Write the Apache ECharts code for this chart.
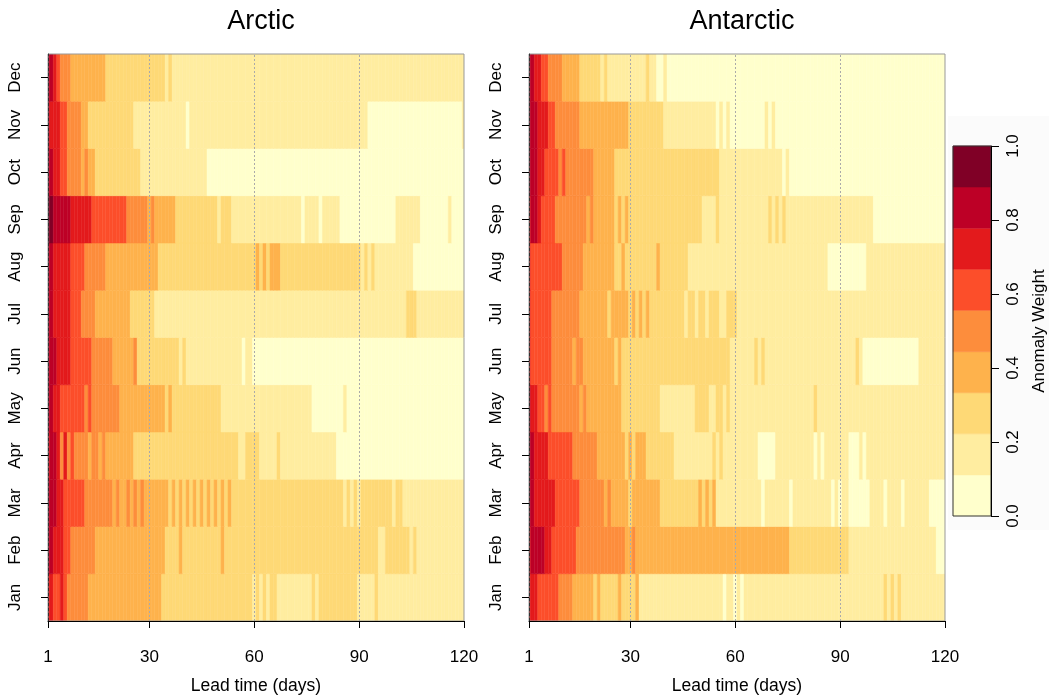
<!DOCTYPE html>
<html><head><meta charset="utf-8">
<script src="https://cdn.jsdelivr.net/npm/echarts@6/dist/echarts.min.js"></script>
<style>html,body{margin:0;padding:0;background:#fff}#c{width:1049px;height:700px}</style>
</head><body><div id="c"></div>
<script>
// ---------- data (each row: [anomaly weight, last lead day of the run]) ----------
const months = ['Jan','Feb','Mar','Apr','May','Jun','Jul','Aug','Sep','Oct','Nov','Dec'];
const panelTitles = ['Arctic','Antarctic'];
const xTicks = [1, 30, 60, 90, 120];
const guideDays = [30, 60, 90];
const legendTicks = [0, 0.2, 0.4, 0.6, 0.8, 1.0];
const levelBreaks = [0, 0.111, 0.222, 0.333, 0.444, 0.556, 0.667, 0.778, 0.889, 1.0];
const levelColors = ['#FFFFCC','#FFEDA0','#FED976','#FEB24C','#FD8D3C','#FC4E2A','#E31A1C','#BD0026','#800026'];

const arcticJan = [[.72,2],[.61,4],[.72,5],[.61,6],[.5,12],[.39,33],[.28,59],[.17,60],[.28,61],[.17,62],[.28,63],[.17,64],[.28,66],[.17,76],[.28,77],[.17,78],[.28,89],[.17,94],[.28,95],[.17,120]];
const arcticFeb = [[.83,2],[.72,5],[.61,7],[.5,14],[.39,34],[.28,38],[.39,39],[.28,50],[.39,51],[.28,95],[.17,97],[.28,104],[.17,105],[.28,106],[.17,120]];
const arcticMar = [[.83,3],[.72,5],[.61,11],[.5,19],[.39,20],[.5,21],[.39,23],[.5,24],[.39,25],[.5,26],[.39,27],[.5,28],[.39,35],[.28,36],[.39,37],[.28,38],[.39,39],[.28,40],[.39,41],[.28,42],[.39,43],[.28,44],[.39,45],[.28,46],[.39,47],[.28,48],[.39,49],[.28,50],[.39,51],[.28,52],[.39,53],[.28,85],[.17,86],[.28,87],[.17,88],[.28,89],[.17,90],[.28,99],[.17,100],[.28,102],[.17,120]];
const arcticApr = [[.72,1],[.83,3],[.72,4],[.5,5],[.72,6],[.5,7],[.61,8],[.5,12],[.39,13],[.5,15],[.39,16],[.5,17],[.39,25],[.28,55],[.17,57],[.28,61],[.17,66],[.28,67],[.17,83],[.05,120]];
const arcticMay = [[.83,2],[.72,4],[.61,11],[.5,12],[.61,13],[.5,21],[.39,34],[.28,35],[.39,36],[.28,50],[.17,76],[.05,85],[.17,86],[.05,120]];
const arcticJun = [[.83,3],[.72,7],[.61,13],[.5,19],[.39,25],[.5,26],[.28,38],[.17,39],[.28,40],[.17,56],[.05,57],[.17,59],[.05,120]];
const arcticJul = [[.83,2],[.72,7],[.61,10],[.5,14],[.39,24],[.28,31],[.17,103],[.28,106],[.17,120]];
const arcticAug = [[.83,2],[.72,7],[.61,11],[.5,17],[.39,32],[.28,60],[.39,61],[.28,62],[.39,63],[.28,64],[.39,67],[.28,90],[.17,91],[.28,92],[.17,93],[.28,94],[.17,105],[.05,120]];
const arcticSep = [[.94,2],[.83,7],[.72,13],[.61,23],[.5,29],[.39,30],[.5,31],[.39,37],[.28,49],[.17,50],[.28,53],[.17,73],[.05,74],[.17,78],[.05,79],[.17,84],[.05,100],[.17,107],[.05,115],[.17,116],[.05,120]];
const arcticOct = [[.83,2],[.72,4],[.61,6],[.5,10],[.39,11],[.5,12],[.39,14],[.28,27],[.17,46],[.05,120]];
const arcticNov = [[.83,1],[.72,4],[.61,6],[.5,10],[.39,12],[.28,25],[.17,40],[.05,41],[.17,92],[.05,119],[.17,120]];
const arcticDec = [[.83,2],[.72,3],[.61,4],[.5,7],[.39,17],[.28,34],[.17,35],[.28,36],[.17,120]];

const antarcticJan = [[.72,3],[.61,9],[.5,13],[.39,19],[.28,20],[.39,21],[.28,26],[.39,27],[.28,31],[.39,32],[.17,56],[.05,57],[.17,59],[.05,60],[.17,61],[.05,62],[.17,102],[.28,103],[.17,104],[.28,105],[.17,106],[.28,107],[.17,120]];
const antarcticFeb = [[.72,1],[.83,5],[.72,7],[.61,14],[.5,28],[.39,30],[.5,31],[.39,75],[.28,92],[.17,117],[.05,120]];
const antarcticMar = [[.83,2],[.72,8],[.61,15],[.5,22],[.39,23],[.5,24],[.39,29],[.28,30],[.39,38],[.28,49],[.39,50],[.28,51],[.39,52],[.28,53],[.39,54],[.17,67],[.05,68],[.17,75],[.05,76],[.17,87],[.05,88],[.17,89],[.05,90],[.17,92],[.05,98],[.17,102],[.05,103],[.17,107],[.05,108],[.17,115],[.05,120]];
const antarcticApr = [[.83,2],[.72,6],[.61,13],[.5,20],[.39,28],[.28,29],[.39,30],[.28,31],[.39,34],[.28,42],[.17,53],[.28,54],[.17,55],[.28,56],[.17,66],[.05,71],[.17,82],[.05,83],[.17,84],[.05,85],[.17,92],[.05,95],[.17,96],[.05,97],[.17,120]];
const antarcticMay = [[.83,1],[.72,3],[.61,5],[.5,6],[.61,7],[.5,15],[.39,16],[.5,17],[.39,27],[.28,38],[.17,48],[.28,52],[.17,54],[.28,56],[.17,57],[.28,58],[.17,82],[.28,83],[.17,120]];
const antarcticJun = [[.72,1],[.61,7],[.5,13],[.39,14],[.5,16],[.39,25],[.28,26],[.39,27],[.28,58],[.17,65],[.28,66],[.17,67],[.28,68],[.17,94],[.28,95],[.17,96],[.05,112],[.17,120]];
const antarcticJul = [[.72,1],[.61,7],[.5,15],[.39,23],[.28,24],[.39,29],[.28,30],[.39,31],[.28,32],[.39,33],[.28,34],[.39,35],[.28,45],[.17,46],[.28,48],[.17,49],[.28,51],[.17,52],[.28,55],[.17,57],[.28,60],[.17,120]];
const antarcticAug = [[.72,1],[.61,10],[.5,16],[.39,25],[.28,27],[.39,28],[.28,37],[.39,38],[.28,46],[.17,86],[.05,97],[.17,120]];
const antarcticSep = [[.72,1],[.83,3],[.72,4],[.61,8],[.5,17],[.39,18],[.5,19],[.39,25],[.28,26],[.39,27],[.28,28],[.39,29],[.28,50],[.17,54],[.28,55],[.17,69],[.28,70],[.17,71],[.28,72],[.17,73],[.28,74],[.17,99],[.05,120]];
const antarcticOct = [[.83,3],[.72,5],[.61,9],[.5,10],[.61,11],[.5,19],[.39,25],[.28,55],[.17,73],[.05,74],[.17,75],[.05,120]];
const antarcticNov = [[.83,3],[.72,6],[.61,8],[.5,15],[.39,29],[.28,39],[.17,54],[.05,55],[.17,56],[.05,57],[.17,58],[.05,68],[.17,69],[.05,70],[.17,71],[.05,120]];
const antarcticDec = [[.83,2],[.72,4],[.61,6],[.5,10],[.39,15],[.28,21],[.17,22],[.28,23],[.17,34],[.28,35],[.17,37],[.05,39],[.17,40],[.05,120]];

const arcticRows = [arcticJan, arcticFeb, arcticMar, arcticApr, arcticMay, arcticJun, arcticJul, arcticAug, arcticSep, arcticOct, arcticNov, arcticDec];
const antarcticRows = [antarcticJan, antarcticFeb, antarcticMar, antarcticApr, antarcticMay, antarcticJun, antarcticJul, antarcticAug, antarcticSep, antarcticOct, antarcticNov, antarcticDec];

// ---------- build ----------
const FONT = '"Liberation Sans", Arial, Helvetica, sans-serif';
function expand(rows) {
  const out = [];
  rows.forEach((runs, m) => {
    let start = 1;
    runs.forEach(([v, end]) => {
      for (let d = start; d <= end; d++) out.push([d, m, v]);
      start = end + 1;
    });
  });
  return out;
}
function colorOf(v) {
  for (let i = 0; i < levelColors.length; i++) if (v < levelBreaks[i + 1]) return levelColors[i];
  return levelColors[levelColors.length - 1];
}
function cellRender(params, api) {
  const d = api.value(0), m = api.value(1), v = api.value(2);
  const a = api.coord([d - 0.5, m]);
  const b = api.coord([d + 0.5, m]);
  const h = api.size([0, 1])[1];
  const cs = params.coordSys;
  const shape = echarts.graphic.clipRectByRect(
    {x: a[0], y: a[1] - h / 2, width: b[0] - a[0], height: h},
    {x: cs.x, y: cs.y, width: cs.width, height: cs.height});
  if (!shape) return;
  const c = colorOf(v);
  return {type: 'rect', shape: shape, style: {fill: c, stroke: c, lineWidth: 0.5}};
}
function legendRender(params, api) {
  const lo = api.value(1), hi = api.value(2);
  const cs = params.coordSys;
  const p0 = api.coord([0, lo]), p1 = api.coord([0, hi]);
  const c = levelColors[params.dataIndex];
  return {type: 'rect', shape: {x: cs.x, y: p1[1], width: cs.width, height: p0[1] - p1[1]},
          style: {fill: c, stroke: c, lineWidth: 0.5}};
}
const lbl = {fontFamily: FONT, fontSize: 17, color: '#000'};
function panelX(i) {
  return {
    gridIndex: i, type: 'value', min: 1, max: 120, z: 10,
    axisLine: {show: true, onZero: false, lineStyle: {color: '#000', width: 1}},
    axisTick: {show: true, length: 7, customValues: xTicks, lineStyle: {color: '#000'}},
    axisLabel: Object.assign({customValues: xTicks, margin: 28}, lbl),
    splitLine: {show: false},
    name: 'Lead time (days)', nameLocation: 'middle', nameGap: 56,
    nameTextStyle: {fontFamily: FONT, fontSize: 17.5, color: '#000'}
  };
}
function panelY(i) {
  return {
    gridIndex: i, type: 'category', data: months, z: 10,
    axisLine: {show: true, lineStyle: {color: '#333', width: 1, type: [3, 2]}},
    axisTick: {show: true, length: 7, alignWithLabel: true, lineStyle: {color: '#000'}},
    axisLabel: Object.assign({rotate: 90, margin: 24}, lbl),
    splitLine: {show: false}
  };
}
const legendData = levelColors.map((c, i) => [0, levelBreaks[i], levelBreaks[i + 1]]);

const option = {
  animation: false,
  backgroundColor: '#fff',
  textStyle: {fontFamily: FONT},
  graphic: [{type: 'rect', left: 948, top: 116, shape: {width: 101, height: 414}, style: {fill: '#fbfbfb'}, z: -10, silent: true}],
  title: panelTitles.map((t, i) => ({
    text: t, left: i === 0 ? 256 : 737, top: 3, textAlign: 'center',
    textStyle: {fontFamily: FONT, fontSize: 27, fontWeight: 'normal', color: '#000'}
  })),
  grid: [
    {left: 48, top: 54, width: 416, height: 571, show: true, z: 10, borderColor: '#999', borderWidth: 1, backgroundColor: 'transparent'},
    {left: 529, top: 54, width: 416, height: 571, show: true, z: 10, borderColor: '#999', borderWidth: 1, backgroundColor: 'transparent'},
    {left: 953, top: 146, width: 40, height: 370, show: true, z: 10, borderColor: '#333', borderWidth: 1, backgroundColor: 'transparent'}
  ],
  xAxis: [panelX(0), panelX(1), {gridIndex: 2, type: 'category', data: [''], show: false}],
  yAxis: [panelY(0), panelY(1), {
    gridIndex: 2, type: 'value', min: 0, max: 1, interval: 0.2, position: 'right', z: 10,
    axisLine: {show: true, lineStyle: {color: '#000'}},
    axisTick: {show: true, length: 8, customValues: legendTicks, lineStyle: {color: '#000'}},
    axisLabel: {rotate: 90, margin: 14, fontFamily: FONT, fontSize: 17, color: '#000', formatter: v => v.toFixed(1)},
    splitLine: {show: false},
    name: 'Anomaly Weight', nameLocation: 'middle', nameRotate: 90, nameGap: 40,
    nameTextStyle: {fontFamily: FONT, fontSize: 17, color: '#000'}
  }],
  series: [
    ...[arcticRows, antarcticRows].map((rows, i) => ({
      type: 'custom', xAxisIndex: i, yAxisIndex: i, renderItem: cellRender,
      data: expand(rows), silent: true, clip: true,
      markLine: {
        silent: true, symbol: 'none', label: {show: false},
        lineStyle: {color: '#aaa', type: [2, 2], width: 1},
        data: guideDays.map(d => ({xAxis: d}))
      }
    })),
    {type: 'custom', xAxisIndex: 2, yAxisIndex: 2, renderItem: legendRender, data: legendData, silent: true}
  ]
};
const chart = echarts.init(document.getElementById('c'));
chart.setOption(option);
</script></body></html>
